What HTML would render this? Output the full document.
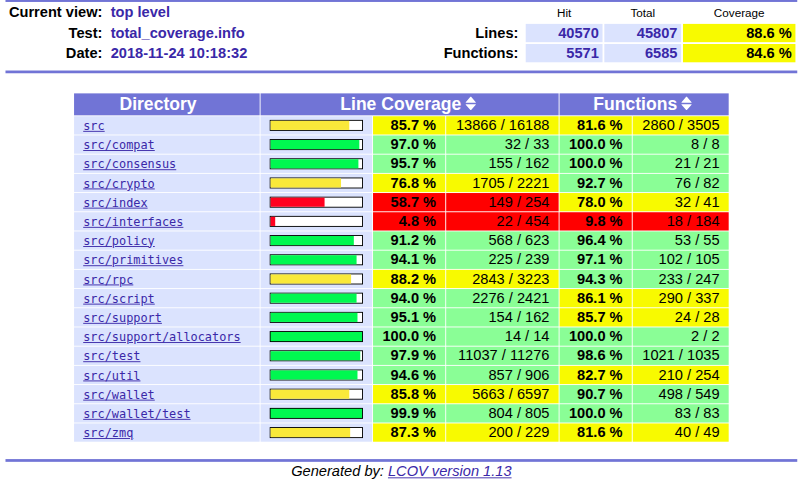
<!DOCTYPE html>
<html><head><meta charset="utf-8"><title>LCOV - total_coverage.info</title>
<style>
html{margin:0;padding:0;width:800px;height:480px;overflow:hidden;background:#fff;}
body{margin:0;padding:0;color:#000;background:#fff;width:875px;height:525px;position:absolute;left:0;top:0;transform-origin:0 0;transform:translate(0px,0.12px) scale(0.9142857);font-family:"Liberation Sans",sans-serif;font-size:16px;}
#wrap{position:absolute;left:6px;top:-1px;width:866px;}
table{font-family:"Liberation Sans",sans-serif;font-size:16px;border-collapse:separate;}
td{line-height:18px;}
td.tableHead{line-height:22px;}
td.coverFile{line-height:15px;}
a:link,a{color:#284FA8;text-decoration:underline;}
#hdr td{box-sizing:border-box;}
td.ruler{background-color:#7174d6;height:3px;line-height:0;font-size:0;padding:0;}
td.headerItem{text-align:right;padding-right:6px;font-family:"Liberation Sans",sans-serif;font-weight:bold;vertical-align:top;white-space:nowrap;}
td.headerValue{text-align:left;color:#3a28a8;font-family:"Liberation Sans",sans-serif;font-weight:bold;white-space:nowrap;}
td.headerCovTableHead{text-align:center;padding-right:6px;padding-left:6px;padding-bottom:0;font-family:"Liberation Sans",sans-serif;font-size:80%;white-space:nowrap;}
td.headerCovTableEntry{text-align:right;color:#3a28a8;font-family:"Liberation Sans",sans-serif;font-weight:bold;white-space:nowrap;padding-left:12px;padding-right:4px;background-color:#dbe3fe;}
td.headerCovTableEntryMed{text-align:right;color:#000;font-family:"Liberation Sans",sans-serif;font-weight:bold;white-space:nowrap;padding-left:12px;padding-right:4px;background-color:#f8fa00;}
td.tableHead{text-align:center;color:#fff;background-color:#7174d6;font-family:"Liberation Sans",sans-serif;font-size:120%;font-weight:bold;white-space:nowrap;padding-left:4px;padding-right:4px;}
td.coverFile{text-align:left;padding-left:10px;padding-right:20px;color:#284FA8;background-color:#dbe3fe;font-family:"DejaVu Sans Mono","Liberation Mono",monospace;font-size:13px;}
td.coverFile a{color:#3a28a8;}
td.coverBar{padding-left:10px;padding-right:10px;background-color:#dbe3fe;}
td.coverBarOutline{background-color:#000;line-height:0;font-size:0;white-space:nowrap;}
.b{display:inline-block;height:10px;vertical-align:top;text-align:left;}
.b .b{display:block;}
.emerald{background:#00f850;} .amber{background:#f9e93a;} .ruby{background:#ff0020;} .snow{background:#fff;}
td.coverPerHi,td.coverPerMed,td.coverPerLo{text-align:right;padding-left:10px;padding-right:10px;font-weight:bold;font-family:"Liberation Sans",sans-serif;}
td.coverNumHi,td.coverNumMed,td.coverNumLo{text-align:right;padding-left:10px;padding-right:10px;white-space:nowrap;font-family:"Liberation Sans",sans-serif;}
td.coverPerHi,td.coverNumHi{background-color:#8afe96;}
td.coverPerMed,td.coverNumMed{background-color:#f8fa00;}
td.coverPerLo,td.coverNumLo{background-color:#ff0000;}
td.versionInfo{text-align:center;padding-top:2px;font-family:"Liberation Sans",sans-serif;font-style:italic;}
td.versionInfo a{color:#3a28a8;}
.ud{vertical-align:baseline;}
.g3{display:block;width:3px;height:3px;}
</style></head>
<body>
<div id="wrap">
<table width="100%" border=0 cellspacing=0 cellpadding=0>
<tr><td class="ruler"><span class="g3"></span></td></tr>
<tr><td width="100%">
<table id="hdr" cellpadding=1 border=0 style="table-layout:fixed;width:866px">
<tr>
<td style="width:110px" class="headerItem">Current view:</td>
<td style="width:285px" class="headerValue">top level</td>
<td style="width:41px"></td>
<td style="width:123px"></td>
<td style="width:84px" class="headerCovTableHead">Hit</td>
<td style="width:84px" class="headerCovTableHead">Total</td>
<td style="width:123px" class="headerCovTableHead">Coverage</td>
</tr>
<tr>
<td class="headerItem">Test:</td>
<td class="headerValue">total_coverage.info</td>
<td></td>
<td class="headerItem">Lines:</td>
<td class="headerCovTableEntry">40570</td>
<td class="headerCovTableEntry">45807</td>
<td class="headerCovTableEntryMed">88.6 %</td>
</tr>
<tr>
<td class="headerItem">Date:</td>
<td class="headerValue">2018-11-24 10:18:32</td>
<td></td>
<td class="headerItem">Functions:</td>
<td class="headerCovTableEntry">5571</td>
<td class="headerCovTableEntry">6585</td>
<td class="headerCovTableEntryMed">84.6 %</td>
</tr>
<tr><td><span class="g3"></span></td></tr>
</table>
</td></tr>
<tr><td class="ruler"><span class="g3"></span></td></tr>
</table>

<center>
<table cellpadding=1 cellspacing=1 border=0 style="table-layout:fixed;width:718px">
<tr>
<td style="width:201px"><br></td>
<td style="width:120px"></td>
<td style="width:77px"></td>
<td style="width:121px"></td>
<td style="width:77px"></td>
<td style="width:103px"></td>
</tr>
<tr>
<td class="tableHead">Directory <span class="tableHeadSort"><span style="display:inline-block;width:14px;height:14px"></span></span></td>
<td class="tableHead" colspan=3>Line Coverage <span class="tableHeadSort"><svg class="ud" width="14" height="14" viewBox="0 0 14 14" style="overflow:visible"><path d="M4.5 -0.3 L5.3 -0.3 L10.4 5.6 L10.4 6.2 L-0.6 6.2 L-0.6 5.6 Z M4.5 14.3 L5.3 14.3 L10.4 8.4 L10.4 7.8 L-0.6 7.8 L-0.6 8.4 Z" fill="#fff"/></svg></span></td>
<td class="tableHead" colspan=2>Functions <span class="tableHeadSort"><svg class="ud" width="14" height="14" viewBox="0 0 14 14" style="overflow:visible"><path d="M4.5 -0.3 L5.3 -0.3 L10.4 5.6 L10.4 6.2 L-0.6 6.2 L-0.6 5.6 Z M4.5 14.3 L5.3 14.3 L10.4 8.4 L10.4 7.8 L-0.6 7.8 L-0.6 8.4 Z" fill="#fff"/></svg></span></td>
</tr>
<tr>
<td class="coverFile"><a href="#">src</a></td>
<td class="coverBar" align="center"><table border=0 cellspacing=0 cellpadding=1><tr><td class="coverBarOutline"><span class="b snow" style="width:100px"><span class="b amber" style="width:86px"></span></span></td></tr></table></td>
<td class="coverPerMed">85.7&nbsp;%</td>
<td class="coverNumMed">13866 / 16188</td>
<td class="coverPerMed">81.6&nbsp;%</td>
<td class="coverNumMed">2860 / 3505</td>
</tr>
<tr>
<td class="coverFile"><a href="#">src/compat</a></td>
<td class="coverBar" align="center"><table border=0 cellspacing=0 cellpadding=1><tr><td class="coverBarOutline"><span class="b snow" style="width:100px"><span class="b emerald" style="width:97px"></span></span></td></tr></table></td>
<td class="coverPerHi">97.0&nbsp;%</td>
<td class="coverNumHi">32 / 33</td>
<td class="coverPerHi">100.0&nbsp;%</td>
<td class="coverNumHi">8 / 8</td>
</tr>
<tr>
<td class="coverFile"><a href="#">src/consensus</a></td>
<td class="coverBar" align="center"><table border=0 cellspacing=0 cellpadding=1><tr><td class="coverBarOutline"><span class="b snow" style="width:100px"><span class="b emerald" style="width:96px"></span></span></td></tr></table></td>
<td class="coverPerHi">95.7&nbsp;%</td>
<td class="coverNumHi">155 / 162</td>
<td class="coverPerHi">100.0&nbsp;%</td>
<td class="coverNumHi">21 / 21</td>
</tr>
<tr>
<td class="coverFile"><a href="#">src/crypto</a></td>
<td class="coverBar" align="center"><table border=0 cellspacing=0 cellpadding=1><tr><td class="coverBarOutline"><span class="b snow" style="width:100px"><span class="b amber" style="width:77px"></span></span></td></tr></table></td>
<td class="coverPerMed">76.8&nbsp;%</td>
<td class="coverNumMed">1705 / 2221</td>
<td class="coverPerHi">92.7&nbsp;%</td>
<td class="coverNumHi">76 / 82</td>
</tr>
<tr>
<td class="coverFile"><a href="#">src/index</a></td>
<td class="coverBar" align="center"><table border=0 cellspacing=0 cellpadding=1><tr><td class="coverBarOutline"><span class="b snow" style="width:100px"><span class="b ruby" style="width:59px"></span></span></td></tr></table></td>
<td class="coverPerLo">58.7&nbsp;%</td>
<td class="coverNumLo">149 / 254</td>
<td class="coverPerMed">78.0&nbsp;%</td>
<td class="coverNumMed">32 / 41</td>
</tr>
<tr>
<td class="coverFile"><a href="#">src/interfaces</a></td>
<td class="coverBar" align="center"><table border=0 cellspacing=0 cellpadding=1><tr><td class="coverBarOutline"><span class="b snow" style="width:100px"><span class="b ruby" style="width:5px"></span></span></td></tr></table></td>
<td class="coverPerLo">4.8&nbsp;%</td>
<td class="coverNumLo">22 / 454</td>
<td class="coverPerLo">9.8&nbsp;%</td>
<td class="coverNumLo">18 / 184</td>
</tr>
<tr>
<td class="coverFile"><a href="#">src/policy</a></td>
<td class="coverBar" align="center"><table border=0 cellspacing=0 cellpadding=1><tr><td class="coverBarOutline"><span class="b snow" style="width:100px"><span class="b emerald" style="width:91px"></span></span></td></tr></table></td>
<td class="coverPerHi">91.2&nbsp;%</td>
<td class="coverNumHi">568 / 623</td>
<td class="coverPerHi">96.4&nbsp;%</td>
<td class="coverNumHi">53 / 55</td>
</tr>
<tr>
<td class="coverFile"><a href="#">src/primitives</a></td>
<td class="coverBar" align="center"><table border=0 cellspacing=0 cellpadding=1><tr><td class="coverBarOutline"><span class="b snow" style="width:100px"><span class="b emerald" style="width:94px"></span></span></td></tr></table></td>
<td class="coverPerHi">94.1&nbsp;%</td>
<td class="coverNumHi">225 / 239</td>
<td class="coverPerHi">97.1&nbsp;%</td>
<td class="coverNumHi">102 / 105</td>
</tr>
<tr>
<td class="coverFile"><a href="#">src/rpc</a></td>
<td class="coverBar" align="center"><table border=0 cellspacing=0 cellpadding=1><tr><td class="coverBarOutline"><span class="b snow" style="width:100px"><span class="b amber" style="width:88px"></span></span></td></tr></table></td>
<td class="coverPerMed">88.2&nbsp;%</td>
<td class="coverNumMed">2843 / 3223</td>
<td class="coverPerHi">94.3&nbsp;%</td>
<td class="coverNumHi">233 / 247</td>
</tr>
<tr>
<td class="coverFile"><a href="#">src/script</a></td>
<td class="coverBar" align="center"><table border=0 cellspacing=0 cellpadding=1><tr><td class="coverBarOutline"><span class="b snow" style="width:100px"><span class="b emerald" style="width:94px"></span></span></td></tr></table></td>
<td class="coverPerHi">94.0&nbsp;%</td>
<td class="coverNumHi">2276 / 2421</td>
<td class="coverPerMed">86.1&nbsp;%</td>
<td class="coverNumMed">290 / 337</td>
</tr>
<tr>
<td class="coverFile"><a href="#">src/support</a></td>
<td class="coverBar" align="center"><table border=0 cellspacing=0 cellpadding=1><tr><td class="coverBarOutline"><span class="b snow" style="width:100px"><span class="b emerald" style="width:95px"></span></span></td></tr></table></td>
<td class="coverPerHi">95.1&nbsp;%</td>
<td class="coverNumHi">154 / 162</td>
<td class="coverPerMed">85.7&nbsp;%</td>
<td class="coverNumMed">24 / 28</td>
</tr>
<tr>
<td class="coverFile"><a href="#">src/support/allocators</a></td>
<td class="coverBar" align="center"><table border=0 cellspacing=0 cellpadding=1><tr><td class="coverBarOutline"><span class="b snow" style="width:100px"><span class="b emerald" style="width:100px"></span></span></td></tr></table></td>
<td class="coverPerHi">100.0&nbsp;%</td>
<td class="coverNumHi">14 / 14</td>
<td class="coverPerHi">100.0&nbsp;%</td>
<td class="coverNumHi">2 / 2</td>
</tr>
<tr>
<td class="coverFile"><a href="#">src/test</a></td>
<td class="coverBar" align="center"><table border=0 cellspacing=0 cellpadding=1><tr><td class="coverBarOutline"><span class="b snow" style="width:100px"><span class="b emerald" style="width:98px"></span></span></td></tr></table></td>
<td class="coverPerHi">97.9&nbsp;%</td>
<td class="coverNumHi">11037 / 11276</td>
<td class="coverPerHi">98.6&nbsp;%</td>
<td class="coverNumHi">1021 / 1035</td>
</tr>
<tr>
<td class="coverFile"><a href="#">src/util</a></td>
<td class="coverBar" align="center"><table border=0 cellspacing=0 cellpadding=1><tr><td class="coverBarOutline"><span class="b snow" style="width:100px"><span class="b emerald" style="width:95px"></span></span></td></tr></table></td>
<td class="coverPerHi">94.6&nbsp;%</td>
<td class="coverNumHi">857 / 906</td>
<td class="coverPerMed">82.7&nbsp;%</td>
<td class="coverNumMed">210 / 254</td>
</tr>
<tr>
<td class="coverFile"><a href="#">src/wallet</a></td>
<td class="coverBar" align="center"><table border=0 cellspacing=0 cellpadding=1><tr><td class="coverBarOutline"><span class="b snow" style="width:100px"><span class="b amber" style="width:86px"></span></span></td></tr></table></td>
<td class="coverPerMed">85.8&nbsp;%</td>
<td class="coverNumMed">5663 / 6597</td>
<td class="coverPerHi">90.7&nbsp;%</td>
<td class="coverNumHi">498 / 549</td>
</tr>
<tr>
<td class="coverFile"><a href="#">src/wallet/test</a></td>
<td class="coverBar" align="center"><table border=0 cellspacing=0 cellpadding=1><tr><td class="coverBarOutline"><span class="b snow" style="width:100px"><span class="b emerald" style="width:100px"></span></span></td></tr></table></td>
<td class="coverPerHi">99.9&nbsp;%</td>
<td class="coverNumHi">804 / 805</td>
<td class="coverPerHi">100.0&nbsp;%</td>
<td class="coverNumHi">83 / 83</td>
</tr>
<tr>
<td class="coverFile"><a href="#">src/zmq</a></td>
<td class="coverBar" align="center"><table border=0 cellspacing=0 cellpadding=1><tr><td class="coverBarOutline"><span class="b snow" style="width:100px"><span class="b amber" style="width:87px"></span></span></td></tr></table></td>
<td class="coverPerMed">87.3&nbsp;%</td>
<td class="coverNumMed">200 / 229</td>
<td class="coverPerMed">81.6&nbsp;%</td>
<td class="coverNumMed">40 / 49</td>
</tr>
</table>
</center>
<br>
<table width="100%" border=0 cellspacing=0 cellpadding=0>
<tr><td class="ruler"><span class="g3"></span></td></tr>
<tr><td class="versionInfo">Generated by: <a href="#">LCOV version 1.13</a></td></tr>
</table>
<br>
</div>
</body></html>
